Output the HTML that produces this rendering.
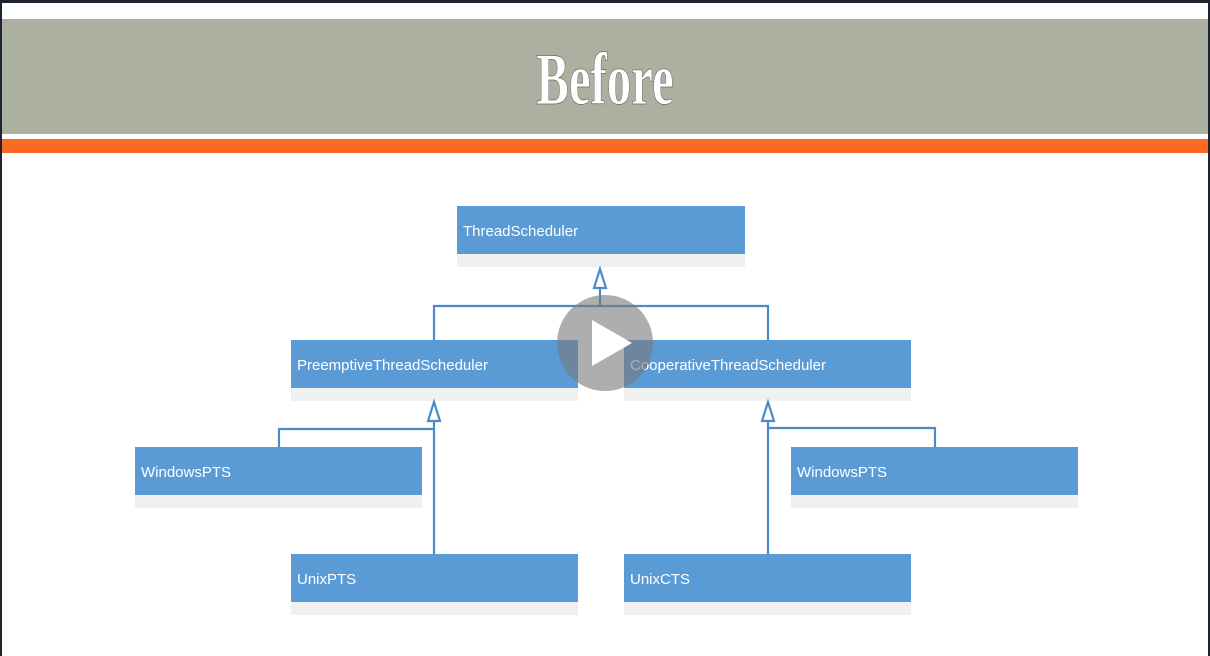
<!DOCTYPE html>
<html><head><meta charset="utf-8"><style>
html,body{margin:0;padding:0;width:1210px;height:656px;overflow:hidden;background:#fff}
</style></head><body>
<svg width="1210" height="656" xmlns="http://www.w3.org/2000/svg" style="display:block">
<rect x="0" y="0" width="1210" height="656" fill="#fff"/>
<rect x="0" y="0" width="1210" height="3" fill="#1f2530"/>
<rect x="0" y="0" width="2" height="656" fill="#1f2530"/>
<rect x="1208" y="0" width="2" height="656" fill="#1f2530"/>
<rect x="2" y="19" width="1206" height="115" fill="#acb0a0"/>
<rect x="2" y="139" width="1206" height="14" fill="#fb6a22"/>
<text x="605" y="104" text-anchor="middle" font-family="Liberation Serif, serif" font-size="66" font-weight="bold" fill="#fff" stroke="#666" stroke-width="0.6" transform="translate(605 104) scale(0.74 1.12) translate(-605 -104)">Before</text>
<g font-family="Liberation Sans, sans-serif" font-size="15" fill="#fff">
<rect x="457" y="254" width="288" height="13" fill="#f0f0f0"/><rect x="457" y="206" width="288" height="48" fill="#5b9bd5"/><text x="463" y="236">ThreadScheduler</text>
<rect x="291" y="388" width="287" height="13" fill="#f0f0f0"/><rect x="291" y="340" width="287" height="48" fill="#5b9bd5"/><text x="297" y="370">PreemptiveThreadScheduler</text>
<rect x="624" y="388" width="287" height="13" fill="#f0f0f0"/><rect x="624" y="340" width="287" height="48" fill="#5b9bd5"/><text x="630" y="370">CooperativeThreadScheduler</text>
<rect x="135" y="495" width="287" height="13" fill="#f0f0f0"/><rect x="135" y="447" width="287" height="48" fill="#5b9bd5"/><text x="141" y="477">WindowsPTS</text>
<rect x="791" y="495" width="287" height="13" fill="#f0f0f0"/><rect x="791" y="447" width="287" height="48" fill="#5b9bd5"/><text x="797" y="477">WindowsPTS</text>
<rect x="291" y="602" width="287" height="13" fill="#f0f0f0"/><rect x="291" y="554" width="287" height="48" fill="#5b9bd5"/><text x="297" y="584">UnixPTS</text>
<rect x="624" y="602" width="287" height="13" fill="#f0f0f0"/><rect x="624" y="554" width="287" height="48" fill="#5b9bd5"/><text x="630" y="584">UnixCTS</text>
</g>
<g stroke="#4a8cc7" stroke-width="2.2" fill="none">
<polyline points="434,340 434,306 768,306 768,340"/>
<line x1="600" y1="306" x2="600" y2="288"/>
<polygon points="600,269 594,288 606,288" fill="#fff"/>
<polyline points="279,447 279,429 434,429"/>
<line x1="434" y1="421" x2="434" y2="554"/>
<polygon points="434,402 428,421 440,421" fill="#fff"/>
<polyline points="935,447 935,428 768,428"/>
<line x1="768" y1="421" x2="768" y2="554"/>
<polygon points="768,402 762,421 774,421" fill="#fff"/>
</g>
<circle cx="605" cy="343" r="48" fill="rgba(120,120,120,0.6)"/>
<polygon points="592,320 592,366 632,343" fill="#fff"/>
</svg>
</body></html>
